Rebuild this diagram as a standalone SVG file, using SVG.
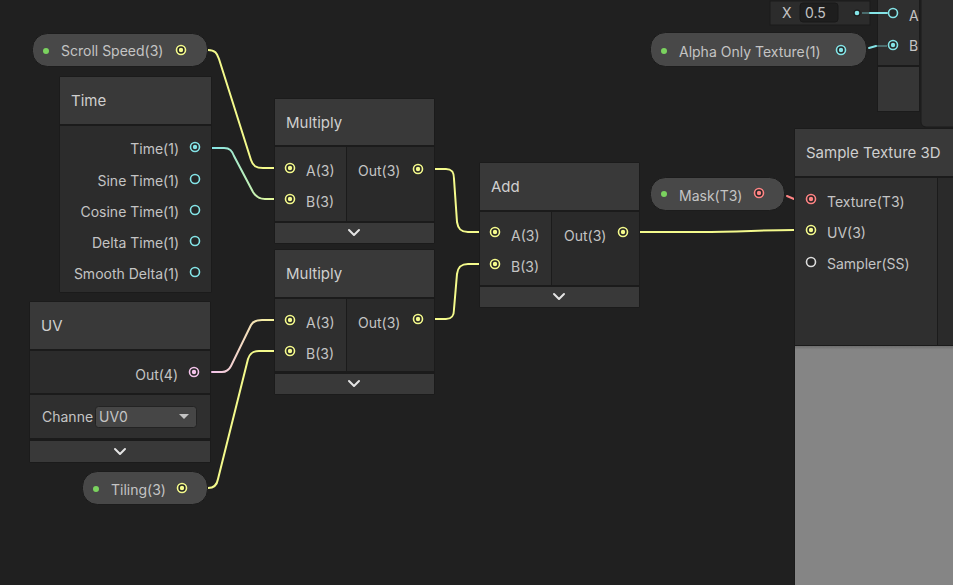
<svg xmlns="http://www.w3.org/2000/svg" width="953" height="585" viewBox="0 0 953 585">
  <style>
    text { font-family: Inter, "Noto Sans", "Liberation Sans", sans-serif; fill: #c4c4c4; }
    .lbl { font-size: 14px; }
    .hdr { font-size: 15px; fill: #cfcfcf; }
    .hdrbg { fill: #393939; }
    .inbg { fill: #2f2f2f; }
    .outbg { fill: #2a2a2a; }
    .foot { fill: #393939; }
    .frame { fill: #1b1b1b; }
    .pill { fill: #484848; stroke: #1c1c1c; stroke-width: 1; }
    .dot { fill: #7bd35f; }
    .chev { fill: none; stroke: #e4e4e4; stroke-width: 2; stroke-linecap: round; stroke-linejoin: round; }
    .edge { fill: none; stroke-width: 2; stroke-linecap: round; stroke-linejoin: round; }
    .stub { fill: none; stroke-width: 2; opacity: 0.35; }
    .y { stroke: #f4fa8c; }
    .c { stroke: #84e4e7; }
    .p { stroke: #f3c3ea; }
    .r { stroke: #ff8484; }
    .w { stroke: #dcdcdc; }
    .ring { stroke-width: 1.6; fill: #262626; }
    .core-y { fill: #f4fa8c; }
    .core-c { fill: #84e4e7; }
    .core-p { fill: #f3c3ea; }
    .core-r { fill: #ff8484; }
  </style>
  <defs>
    <linearGradient id="gTime" gradientUnits="userSpaceOnUse" x1="212" y1="0" x2="284" y2="0">
      <stop offset="0" stop-color="#84e4e7"/>
      <stop offset="1" stop-color="#f4fa8c"/>
    </linearGradient>
    <linearGradient id="gUV" gradientUnits="userSpaceOnUse" x1="212" y1="0" x2="284" y2="0">
      <stop offset="0" stop-color="#f3c3ea"/>
      <stop offset="1" stop-color="#f4fa8c"/>
    </linearGradient>
    <linearGradient id="gPreview" x1="0" y1="0" x2="0" y2="1">
      <stop offset="0" stop-color="#6e6e6e"/>
      <stop offset="0.015" stop-color="#858585"/>
      <stop offset="1" stop-color="#858585"/>
    </linearGradient>
  </defs>

  <rect width="953" height="585" fill="#202020"/>

  <!-- partial nodes along the top edge -->
  <g id="node-top-right">
    <rect x="921" y="-6" width="40" height="133" rx="5" fill="#2e2e2e" stroke="#1a1a1a"/>
    <rect x="877" y="-2" width="43" height="114" fill="#1b1b1b"/>
    <rect x="878" y="-2" width="41" height="67" fill="#2f2f2f"/>
    <rect x="878" y="67" width="41" height="44" fill="#363636"/>
    <text class="lbl" x="909" y="21">A</text>
    <text class="lbl" x="909" y="51">B</text>
  </g>

  <g id="node-x-field">
    <rect x="770" y="1" width="100" height="24" fill="#2c2c2c" stroke="#1a1a1a"/>
    <text class="lbl" x="782" y="18">X</text>
    <rect x="800" y="3" width="38" height="19" rx="3" fill="#1e1e1e" stroke="#191919"/>
    <text class="lbl" x="805" y="18">0.5</text>
    <circle cx="857" cy="13" r="3.5" fill="#1c1c1c"/>
    <circle cx="857" cy="13" r="2.3" class="core-c"/>
  </g>

  <!-- connectors -->
  <g id="connectors">
    <!-- port stubs -->
    <path class="stub y" d="M 196 51 L 208 51"/>
    <path class="stub y" d="M 274 168 L 284 168 M 274 199 L 284 199 M 274 320 L 284 320 M 274 351 L 284 351"/>
    <path class="stub c" d="M 201 148 L 211 148"/>
    <path class="stub p" d="M 200 372 L 210 372"/>
    <path class="stub y" d="M 424 169 L 434 169 M 424 319 L 434 319 M 629 232 L 639 232"/>
    <path class="stub y" d="M 479 232 L 489 232 M 479 264 L 489 264"/>
    <path class="stub y" d="M 196 489 L 208 489"/>
    <path class="stub r" d="M 765 194 L 785 194 M 794 199 L 804 199"/>
    <path class="stub y" d="M 794 230 L 804 230"/>
    <path class="stub c" d="M 862 13 L 870 13 M 876 46 L 887 46"/>

    <!-- Scroll Speed -> Multiply A -->
    <path class="edge y" d="M 208 50 C 215 50 217 53 219 59 L 251 160 C 253 166 256 168 263 168 L 274 168"/>
    <!-- Time -> Multiply B -->
    <path class="edge" stroke="url(#gTime)" d="M 212 148 L 224 148 C 230 148 232 151 234 156 L 253 192 C 256 197 259 199 265 199 L 274 199"/>
    <!-- Multiply Out -> Add A -->
    <path class="edge y" d="M 434 169 L 446 169 C 452 169 454 172 454 179 L 457 222 C 458 229 461 232 468 232 L 479 232"/>
    <!-- Multiply Out -> Add B -->
    <path class="edge y" d="M 434 319 L 446 319 C 452 319 454 316 454 309 L 457 274 C 458 267 461 264 468 264 L 479 264"/>
    <!-- UV Out -> Multiply A -->
    <path class="edge" stroke="url(#gUV)" d="M 212 372 L 222 372 C 227 372 229 370 231 366 L 251 325 C 253 321 256 320 262 320 L 274 320"/>
    <!-- Tiling -> Multiply B -->
    <path class="edge y" d="M 208 488 C 214 488 217 485 218 479 L 248 359 C 250 353 253 351 259 351 L 274 351"/>
    <!-- Add Out -> Sample UV -->
    <path class="edge y" d="M 639 232 L 700 232 C 740 232 760 230 794 230"/>
    <!-- Mask -> Texture -->
    <path class="edge r" d="M 787 196 L 794 199"/>
    <!-- X -> A -->
    <path class="edge c" stroke-width="2.5" d="M 870 13 L 887 13"/>
    <!-- Alpha Only Texture -> B -->
    <path class="edge c" d="M 869 48 L 876 46"/>
  </g>

  <!-- Scroll Speed property -->
  <g id="node-scroll-speed">
    <rect class="pill" x="32.5" y="33.5" width="175" height="33" rx="15"/>
    <circle class="dot" cx="46" cy="51" r="3"/>
    <text class="lbl" x="61" y="56">Scroll Speed(3)</text>
    <circle class="ring y" cx="181" cy="50" r="4.5"/>
    <circle class="core-y" cx="181" cy="50" r="2.2"/>
  </g>

  <!-- Time -->
  <g id="node-time">
    <rect class="frame" x="59" y="76" width="153" height="217" rx="2"/>
    <rect class="hdrbg" x="60" y="77" width="151" height="47"/>
    <rect fill="#2c2c2c" x="60" y="126" width="151" height="166"/>
    <text class="hdr" x="71" y="106">Time</text>
    <text class="lbl" x="179" y="154" text-anchor="end">Time(1)</text>
    <text class="lbl" x="179" y="186" text-anchor="end">Sine Time(1)</text>
    <text class="lbl" x="179" y="217" text-anchor="end">Cosine Time(1)</text>
    <text class="lbl" x="179" y="248" text-anchor="end">Delta Time(1)</text>
    <text class="lbl" x="179" y="279" text-anchor="end">Smooth Delta(1)</text>
    <circle class="ring c" cx="195" cy="147" r="4.5"/>
    <circle class="core-c" cx="195" cy="147" r="2.2"/>
    <circle class="ring c" cx="195" cy="179" r="4.5"/>
    <circle class="ring c" cx="195" cy="210" r="4.5"/>
    <circle class="ring c" cx="195" cy="241" r="4.5"/>
    <circle class="ring c" cx="195" cy="272" r="4.5"/>
  </g>

  <!-- Multiply (top) -->
  <g id="node-multiply-1">
    <rect class="frame" x="274" y="98" width="161" height="146" rx="2"/>
    <rect class="hdrbg" x="275" y="99" width="159" height="46"/>
    <rect class="inbg" x="275" y="147" width="71" height="74"/>
    <rect class="outbg" x="347" y="147" width="87" height="74"/>
    <rect class="foot" x="275" y="223" width="159" height="20"/>
    <text class="hdr" x="286" y="128">Multiply</text>
    <text class="lbl" x="306" y="176">A(3)</text>
    <text class="lbl" x="306" y="207">B(3)</text>
    <text class="lbl" x="358" y="176">Out(3)</text>
    <circle class="ring y" cx="290" cy="168" r="4.5"/>
    <circle class="core-y" cx="290" cy="168" r="2.2"/>
    <circle class="ring y" cx="290" cy="199" r="4.5"/>
    <circle class="core-y" cx="290" cy="199" r="2.2"/>
    <circle class="ring y" cx="418" cy="169" r="4.5"/>
    <circle class="core-y" cx="418" cy="169" r="2.2"/>
    <path class="chev" d="M 349 230 L 354 235 L 359 230"/>
  </g>

  <!-- Multiply (bottom) -->
  <g id="node-multiply-2">
    <rect class="frame" x="274" y="249" width="161" height="146" rx="2"/>
    <rect class="hdrbg" x="275" y="250" width="159" height="47"/>
    <rect class="inbg" x="275" y="299" width="71" height="72"/>
    <rect class="outbg" x="347" y="299" width="87" height="72"/>
    <rect class="foot" x="275" y="374" width="159" height="20"/>
    <text class="hdr" x="286" y="279">Multiply</text>
    <text class="lbl" x="306" y="328">A(3)</text>
    <text class="lbl" x="306" y="359">B(3)</text>
    <text class="lbl" x="358" y="328">Out(3)</text>
    <circle class="ring y" cx="290" cy="320" r="4.5"/>
    <circle class="core-y" cx="290" cy="320" r="2.2"/>
    <circle class="ring y" cx="290" cy="351" r="4.5"/>
    <circle class="core-y" cx="290" cy="351" r="2.2"/>
    <circle class="ring y" cx="418" cy="319" r="4.5"/>
    <circle class="core-y" cx="418" cy="319" r="2.2"/>
    <path class="chev" d="M 349 381 L 354 386 L 359 381"/>
  </g>

  <!-- Add -->
  <g id="node-add">
    <rect class="frame" x="479" y="162" width="161" height="146" rx="2"/>
    <rect class="hdrbg" x="480" y="163" width="159" height="47"/>
    <rect class="inbg" x="480" y="212" width="71" height="73"/>
    <rect class="outbg" x="552" y="212" width="87" height="73"/>
    <rect class="foot" x="480" y="287" width="159" height="20"/>
    <text class="hdr" x="491" y="192">Add</text>
    <text class="lbl" x="511" y="241">A(3)</text>
    <text class="lbl" x="511" y="272">B(3)</text>
    <text class="lbl" x="564" y="241">Out(3)</text>
    <circle class="ring y" cx="495" cy="232" r="4.5"/>
    <circle class="core-y" cx="495" cy="232" r="2.2"/>
    <circle class="ring y" cx="495" cy="264" r="4.5"/>
    <circle class="core-y" cx="495" cy="264" r="2.2"/>
    <circle class="ring y" cx="623" cy="232" r="4.5"/>
    <circle class="core-y" cx="623" cy="232" r="2.2"/>
    <path class="chev" d="M 554 294 L 559 299 L 564 294"/>
  </g>

  <!-- UV -->
  <g id="node-uv">
    <rect class="frame" x="29" y="301" width="182" height="162" rx="2"/>
    <rect class="hdrbg" x="30" y="302" width="180" height="47"/>
    <rect fill="#2b2b2b" x="30" y="351" width="180" height="42"/>
    <rect fill="#2f2f2f" x="30" y="395" width="180" height="43"/>
    <rect class="foot" x="30" y="441" width="180" height="21"/>
    <text class="hdr" x="41" y="331">UV</text>
    <text class="lbl" x="178" y="380" text-anchor="end">Out(4)</text>
    <circle class="ring p" cx="194" cy="372" r="4.5"/>
    <circle class="core-p" cx="194" cy="372" r="2.2"/>
    <text class="lbl" x="42" y="422">Channe</text>
    <rect x="95.5" y="406.5" width="101" height="21" rx="3" fill="#464646" stroke="#232323"/>
    <text class="lbl" x="99" y="422">UV0</text>
    <path d="M 179 414 L 189 414 L 184 419 Z" fill="#c4c4c4"/>
    <path class="chev" d="M 115 449 L 120 454 L 125 449"/>
  </g>

  <!-- Tiling property -->
  <g id="node-tiling">
    <rect class="pill" x="82.5" y="471.5" width="125" height="33" rx="15"/>
    <circle class="dot" cx="96" cy="489" r="3"/>
    <text class="lbl" x="111" y="495">Tiling(3)</text>
    <circle class="ring y" cx="182" cy="488" r="4.5"/>
    <circle class="core-y" cx="182" cy="488" r="2.2"/>
  </g>

  <!-- Alpha Only Texture property -->
  <g id="node-alpha-only-texture">
    <rect class="pill" x="650.5" y="32.5" width="216" height="34" rx="15"/>
    <circle class="dot" cx="664" cy="51" r="3"/>
    <text class="lbl" x="679" y="57">Alpha Only Texture(1)</text>
    <circle class="ring c" cx="841" cy="50" r="4.5"/>
    <circle class="core-c" cx="841" cy="50" r="2.2"/>
  </g>
  <g id="ports-top-right">
    <circle class="ring c" cx="893" cy="13" r="4.5"/>
    <circle class="ring c" cx="893" cy="45" r="4.5"/>
    <circle class="core-c" cx="893" cy="45" r="2.2"/>
  </g>

  <!-- Mask property -->
  <g id="node-mask">
    <rect class="pill" x="650.5" y="177.5" width="134" height="33" rx="15"/>
    <circle class="dot" cx="664" cy="194" r="3"/>
    <text class="lbl" x="679" y="201">Mask(T3)</text>
    <circle class="ring r" cx="759" cy="193" r="4.5"/>
    <circle class="core-r" cx="759" cy="193" r="2.2"/>
  </g>

  <!-- Sample Texture 3D -->
  <g id="node-sample-texture-3d">
    <rect class="frame" x="794" y="128" width="165" height="460" rx="2"/>
    <rect class="hdrbg" x="795" y="129" width="160" height="47"/>
    <rect class="inbg" x="795" y="178" width="142" height="167"/>
    <rect class="outbg" x="938" y="178" width="17" height="167"/>
    <rect fill="url(#gPreview)" x="795" y="346" width="160" height="240"/>
    <text class="hdr" x="806" y="158">Sample Texture 3D</text>
    <text class="lbl" x="827" y="207">Texture(T3)</text>
    <text class="lbl" x="827" y="238">UV(3)</text>
    <text class="lbl" x="827" y="269">Sampler(SS)</text>
    <circle class="ring r" cx="811" cy="199" r="4.5"/>
    <circle class="core-r" cx="811" cy="199" r="2.2"/>
    <circle class="ring y" cx="811" cy="230" r="4.5"/>
    <circle class="core-y" cx="811" cy="230" r="2.2"/>
    <circle class="ring w" cx="811" cy="262" r="4.5"/>
  </g>
</svg>
